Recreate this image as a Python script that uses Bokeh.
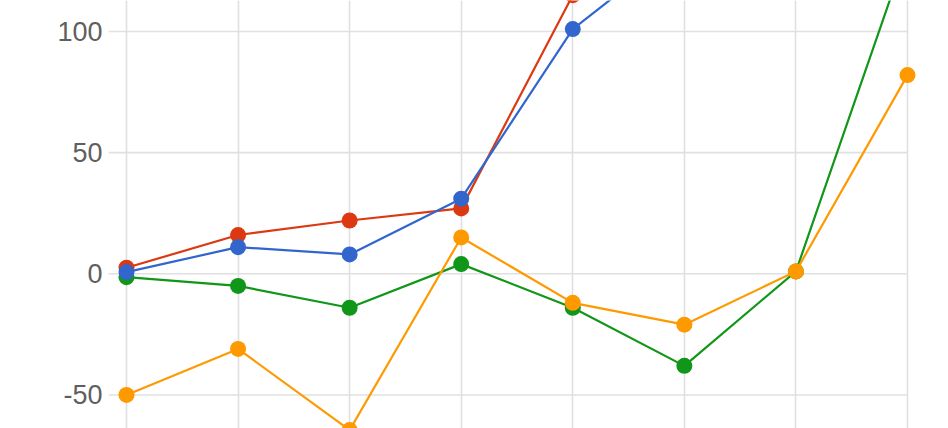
from bokeh.plotting import figure
from bokeh.models import Range1d, FixedTicker, Grid, ColumnDataSource
from bokeh.embed import file_html
from bokeh.resources import INLINE

# ---- data ----
x_idx = [0, 1, 2, 3, 4, 5, 6, 7]
red_vals = [2.5, 16, 22, 27, 115, 150, 165, 180]
blue_vals = [0.7, 11, 8, 31, 101, 137, 150, 160]
green_vals = [-1.4, -5, -14, 4, -14, -38, 1, 134]
orange_vals = [-50, -31, -64.5, 15, -12, -21, 1, 82]
y_ticks = [-50, 0, 50, 100]
y_tick_labels = ["-50", "0", "50", "100"]

RED = "#dc3912"
BLUE = "#3366cc"
GREEN = "#109618"
ORANGE = "#ff9900"
GRID = "#e0e0e0"

p = figure(
    width=948, height=428,
    output_backend="svg", toolbar_location=None,
    x_range=Range1d(-0.1613, 7.3675),
    y_range=Range1d(-63.85, 112.8),
    x_axis_location=None,
    min_border_left=108, min_border_right=0,
    min_border_top=0, min_border_bottom=0,
)
p.outline_line_color = None
p.background_fill_color = "white"
p.border_fill_color = "white"

# vertical gridlines at each category
vgrid = Grid(dimension=0, ticker=FixedTicker(ticks=x_idx),
             grid_line_color=GRID, grid_line_width=1.6)
p.add_layout(vgrid)

# y axis
p.ygrid.visible = False
p.yaxis.ticker = FixedTicker(ticks=y_ticks)
p.yaxis.major_label_overrides = {t: l for t, l in zip(y_ticks, y_tick_labels)}
p.yaxis.axis_line_color = None
p.yaxis.major_tick_line_color = None
p.yaxis.minor_tick_line_color = None
p.yaxis.major_tick_out = 0
p.yaxis.major_tick_in = 0
p.yaxis.major_label_standoff = 6
p.yaxis.major_label_text_font = "Liberation Sans"
p.yaxis.major_label_text_font_size = "27px"
p.yaxis.major_label_text_color = "#5f5f5f"

# horizontal gridlines ending at the last category
hsrc = ColumnDataSource(dict(
    x0=[p.x_range.start] * len(y_ticks),
    x1=[x_idx[-1]] * len(y_ticks),
    y=y_ticks,
))
p.segment(x0="x0", y0="y", x1="x1", y1="y", source=hsrc,
          line_color=GRID, line_width=1.6)

for vals, col in [(green_vals, GREEN), (orange_vals, ORANGE),
                  (red_vals, RED), (blue_vals, BLUE)]:
    p.line(x_idx, vals, line_color=col, line_width=2.2)
    p.scatter(x_idx, vals, size=16, fill_color=col, line_color=col, line_width=0)

open("out.html", "w").write(file_html(p, INLINE))
